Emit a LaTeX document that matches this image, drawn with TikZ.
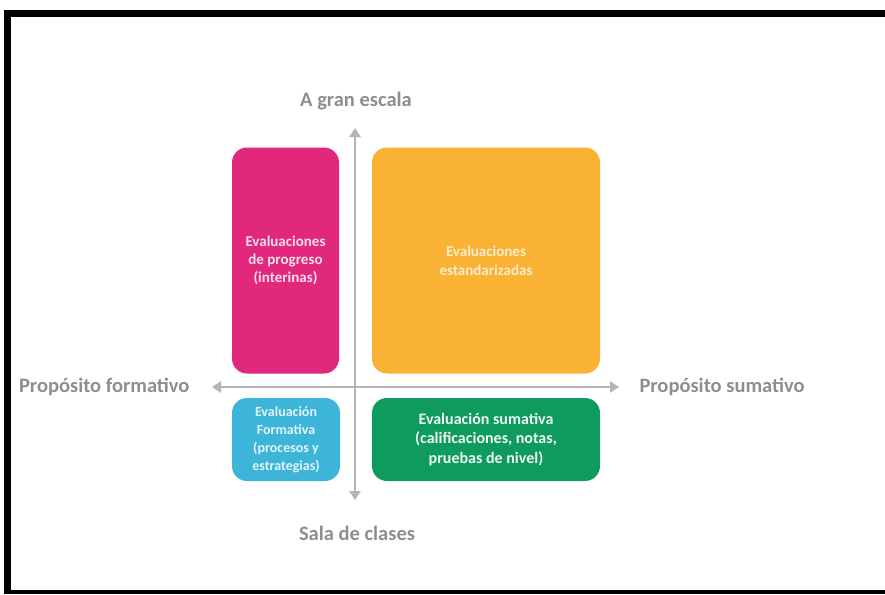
\documentclass[tikz,border=0pt]{standalone}
\usepackage{fontspec}
\setmainfont{Carlito}
\usepackage{tikz}
\usetikzlibrary{arrows.meta}
\definecolor{axisGray}{HTML}{B4B4B4}
\definecolor{labelGray}{HTML}{8E8E8E}
\definecolor{quadPink}{HTML}{E2287C}
\definecolor{quadOrange}{HTML}{F9B233}
\definecolor{quadCyan}{HTML}{3DB5D8}
\definecolor{quadGreen}{HTML}{0F9A5E}

\begin{document}
\begin{tikzpicture}[x=1pt, y=-1pt, line cap=round,
    quad/.style={rounded corners=15pt, inner sep=2pt, align=center, font=\fontsize{15}{18}\selectfont\bfseries},
    axislabel/.style={text=labelGray, font=\fontsize{20.5}{23}\selectfont\bfseries},
    axisline/.style={axisGray, line width=2.5pt, {Triangle[width=11pt,length=9pt]}-{Triangle[width=11pt,length=9pt]}}]
  \useasboundingbox (0,0) rectangle (885,594);
  % frame
  \draw[line width=7pt, line cap=butt] (7.5,594) -- (7.5,13.5) -- (885,13.5);
  \draw[line width=4pt, line cap=butt] (4,592) -- (885,592);

  % quadrants
  \node[quad, fill=quadPink, text=white!85!quadPink, minimum width=107pt, minimum height=226pt] (progreso) at (285.5,260.5) {Evaluaciones\\de progreso\\(interinas)};
  \node[quad, fill=quadOrange, text=white!75!quadOrange, minimum width=228pt, minimum height=226pt, font=\fontsize{15}{19}\selectfont\bfseries] (estandar) at (486,260.5) {Evaluaciones\\estandarizadas};
  \node[quad, fill=quadCyan, text=white!85!quadCyan, minimum width=108pt, minimum height=83pt, font=\fontsize{14}{18}\selectfont\bfseries] (formativa) at (286,439.5) {Evaluación\\Formativa\\(procesos y\\estrategias)};
  \node[quad, fill=quadGreen, text=white!92!quadGreen, minimum width=228pt, minimum height=83pt, font=\fontsize{16}{19.5}\selectfont\bfseries] (sumativa) at (486,439.5) {Evaluación sumativa\\(calificaciones, notas,\\pruebas de nivel)};

  % axes
  \coordinate (top) at (355,128);
  \coordinate (bottom) at (355,500);
  \coordinate (left) at (212,387);
  \coordinate (right) at (619,387);
  \draw[axisline] (left) -- (right);
  \draw[axisline] (top) -- (bottom);

  \node[axislabel] (escala) at (356,101) {A gran escala};
  \node[axislabel] (clases) at (357,533) {Sala de clases};
  \node[axislabel, anchor=east] (formativo) at (193,387) {Propósito formativo};
  \node[axislabel, anchor=west] (sumativo) at (636,387) {Propósito sumativo};
\end{tikzpicture}
\end{document}
